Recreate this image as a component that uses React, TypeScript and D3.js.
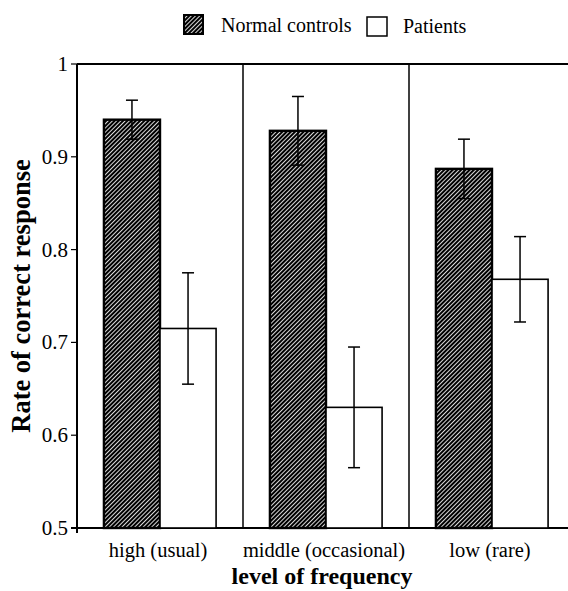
import React from 'react';
import * as d3 from 'd3';

// values
const categories = ['high (usual)', 'middle (occasional)', 'low (rare)'];
const seriesNames = ['Normal controls', 'Patients'];
const normalMeans = [0.94, 0.928, 0.887];
const normalErrors = [0.021, 0.037, 0.032];
const patientMeans = [0.715, 0.63, 0.768];
const patientErrors = [0.06, 0.065, 0.046];
const yTicks = [0.5, 0.6, 0.7, 0.8, 0.9, 1];

const width = 568;
const height = 591;
const left = 77;
const right = 575;
const top = 64;
const bottom = 528;
const serif = "'Liberation Serif', 'DejaVu Serif', serif";

export default function App() {
    const x = d3.scaleBand<string>().domain(categories).range([left, right]).padding(0);
    const inner = d3.scaleBand<string>()
        .domain(seriesNames)
        .range([0, x.bandwidth()])
        .paddingInner(0)
        .paddingOuter(0.48);
    const y = d3.scaleLinear().domain([0.5, 1]).range([bottom, top]);

    const rows = categories.map((c, i) => ({
        cat: c,
        bars: [
            { name: seriesNames[0], value: normalMeans[i], err: normalErrors[i] },
            { name: seriesNames[1], value: patientMeans[i], err: patientErrors[i] },
        ],
    }));

    return (
        <svg width={width} height={height} fontFamily={serif}
            style={{ position: 'absolute', left: 0, top: 0, background: '#fff' }}>
            <defs>
                <pattern id="hatch" patternUnits="userSpaceOnUse" width={3} height={3}
                    patternTransform="rotate(45)">
                    <rect width={3} height={3} fill="#fff" />
                    <line x1={1} y1={0} x2={1} y2={3} stroke="#000" strokeWidth={2.3} />
                </pattern>
            </defs>

            {/* legend */}
            <rect x={184} y={15} width={19} height={19} fill="url(#hatch)" stroke="#000" strokeWidth={2} />
            <text x={221} y={32} fontSize={20} fontFamily={serif}>Normal controls</text>
            <rect x={367} y={17} width={20} height={19} fill="#fff" stroke="#000" strokeWidth={1.5} />
            <text x={403} y={33} fontSize={20} fontFamily={serif}>Patients</text>

            {/* frame */}
            <line x1={left} x2={width} y1={top} y2={top} stroke="#000" strokeWidth={2} />
            <line x1={left - 6} x2={width} y1={bottom} y2={bottom} stroke="#000" strokeWidth={2} />
            {categories.slice(1).map(c => (
                <line key={c} x1={x(c)!} x2={x(c)!} y1={top} y2={bottom} stroke="#000" strokeWidth={1.5} />
            ))}

            {/* bars */}
            {rows.map(r => (
                <g key={r.cat} transform={`translate(${x(r.cat)},0)`}>
                    {r.bars.map((b, j) => {
                        const bx = inner(b.name)!;
                        const bw = inner.bandwidth();
                        const cx = bx + bw / 2;
                        return (
                            <g key={b.name}>
                                <rect x={bx} y={y(b.value)} width={bw} height={bottom - y(b.value)}
                                    fill={j === 0 ? 'url(#hatch)' : '#fff'}
                                    stroke="#000" strokeWidth={j === 0 ? 2.4 : 1.6} />
                                <line x1={cx} x2={cx} y1={y(b.value + b.err)} y2={y(b.value - b.err)}
                                    stroke="#000" strokeWidth={1.5} />
                                <line x1={cx - 6} x2={cx + 6} y1={y(b.value + b.err)} y2={y(b.value + b.err)}
                                    stroke="#000" strokeWidth={1.5} />
                                <line x1={cx - 6} x2={cx + 6} y1={y(b.value - b.err)} y2={y(b.value - b.err)}
                                    stroke="#000" strokeWidth={1.5} />
                            </g>
                        );
                    })}
                </g>
            ))}

            {/* y axis */}
            <line x1={left} x2={left} y1={top} y2={bottom + 5} stroke="#000" strokeWidth={2} />
            {yTicks.map(t => (
                <g key={t} transform={`translate(0,${y(t)})`}>
                    <line x1={left - 6} x2={left} stroke="#000" strokeWidth={1.2} />
                    <text x={left - 9} y={7} textAnchor="end" fontSize={21} fontFamily={serif}>
                        {d3.format('~g')(t)}
                    </text>
                </g>
            ))}

            {/* category labels */}
            {categories.map(c => (
                <text key={c} x={x(c)! + x.bandwidth() / 2 - 2} y={557} textAnchor="middle"
                    fontSize={20.5} fontFamily={serif}>{c}</text>
            ))}

            <text x={322} y={584} textAnchor="middle" fontSize={24} fontWeight="bold"
                fontFamily={serif}>level of frequency</text>
            <text transform={`translate(30,${(top + bottom) / 2}) rotate(-90)`} textAnchor="middle"
                fontSize={26.5} fontWeight="bold" fontFamily={serif}>Rate of correct response</text>
        </svg>
    );
}
